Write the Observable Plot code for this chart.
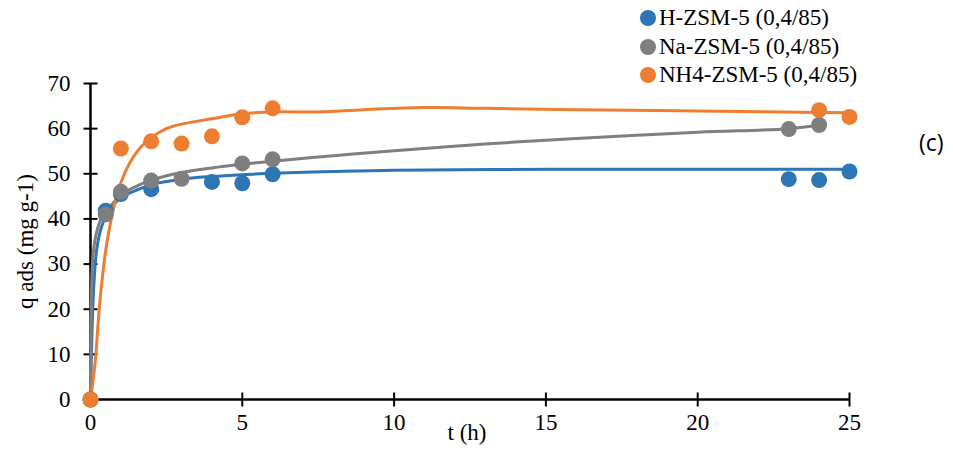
<!DOCTYPE html>
<html>
<head>
<meta charset="utf-8">
<script src="https://cdn.jsdelivr.net/npm/d3@7"></script>
<script src="https://cdn.jsdelivr.net/npm/@observablehq/plot@0.6"></script>
<style>
  html, body { margin: 0; padding: 0; background: #fff; }
  #wrap { position: relative; width: 953px; height: 453px; overflow: hidden; }
  #legend { position: absolute; left: 640px; top: 4px; font-family: "Liberation Serif", "Tinos", "Times New Roman", "DejaVu Serif", serif; font-size: 23px; color: #000; }
  #legend .row { display: flex; align-items: center; height: 28.5px; white-space: nowrap; }
  #legend .sw { width: 16px; height: 16px; border-radius: 50%; margin-right: 3px; flex: none; }
  #tag { position: absolute; left: 919px; top: 126px; font-family: "Open Sans", "Liberation Sans", sans-serif; font-size: 23px; color: #000; }
  #wrap svg text { font-family: "Liberation Serif", "Tinos", "Times New Roman", "DejaVu Serif", serif; }
</style>
</head>
<body>
<div id="wrap"><div id="legend"></div><div id="tag">(c)</div></div>
<script>
// ---- data ----
const seriesNames = ["H-ZSM-5 (0,4/85)", "Na-ZSM-5 (0,4/85)", "NH4-ZSM-5 (0,4/85)"];
const seriesColors = ["#2E75B6", "#7F7F7F", "#ED7D31"];

// measured points
const hT = [0, 0.5, 1, 2, 4, 5, 6, 23, 24, 25];
const hQ = [0, 41.8, 45.5, 46.6, 48.2, 47.9, 49.9, 48.8, 48.6, 50.5];
const naT = [0, 0.5, 1, 2, 3, 5, 6, 23, 24];
const naQ = [0, 41.0, 46.0, 48.5, 48.9, 52.3, 53.2, 59.9, 60.8];
const nhT = [0, 1, 2, 3, 4, 5, 6, 24, 25];
const nhQ = [0, 55.6, 57.2, 56.7, 58.3, 62.5, 64.5, 64.1, 62.6];

// fitted curves
const hFitT = [0, 0.05, 0.1, 0.2, 0.35, 0.5, 0.75, 1, 1.5, 2, 3, 4, 5, 6, 8, 10, 15, 20, 25];
const hFitQ = [0, 15, 24, 33, 38, 40.5, 43, 44.8, 46.3, 47.6, 48.8, 49.4, 49.8, 50.1, 50.5, 50.8, 51, 51, 51];
const naFitT = [0, 0.02, 0.05, 0.1, 0.2, 0.35, 0.6, 1, 1.5, 2, 3, 4, 5, 6, 8, 10, 13, 16, 20, 23, 24];
const naFitQ = [0, 18, 28, 33, 37, 40, 42.3, 45.3, 47.2, 48.6, 50.3, 51.3, 52.1, 52.8, 54, 55.1, 56.6, 57.8, 59.2, 60, 60.8];
const nhFitT = [0, 0.15, 0.3, 0.5, 0.75, 1, 1.3, 1.6, 2, 2.5, 3, 4, 5, 6, 7.5, 9, 11, 13, 16, 20, 24, 25];
const nhFitQ = [0, 8, 21, 33, 42, 48, 52.5, 55.5, 58, 60, 61, 62.2, 63.3, 63.7, 63.7, 64.2, 64.7, 64.5, 64.2, 63.9, 63.6, 63.5];

const xTicks = [0, 5, 10, 15, 20, 25];
const yTicks = [0, 10, 20, 30, 40, 50, 60, 70];
const xLabel = "t (h)";
const yLabel = "q ads (mg g-1)";

// ---- build tables ----
const pts = [], fits = [];
[[hT, hQ], [naT, naQ], [nhT, nhQ]].forEach(([T, Q], i) =>
  T.forEach((t, j) => pts.push({s: seriesNames[i], t, q: Q[j]})));
[[hFitT, hFitQ], [naFitT, naFitQ], [nhFitT, nhFitQ]].forEach(([T, Q], i) =>
  T.forEach((t, j) => fits.push({s: seriesNames[i], t, q: Q[j]})));

const vTick = {draw(ctx) { ctx.moveTo(0, -7); ctx.lineTo(0, 7); }};
const hTick = {draw(ctx) { ctx.moveTo(-7, 0); ctx.lineTo(7, 0); }};
const font = "'Liberation Serif', 'Tinos', 'Times New Roman', 'DejaVu Serif', serif";

const chart = Plot.plot({
  width: 953, height: 453,
  marginLeft: 90, marginRight: 104, marginTop: 83, marginBottom: 54,
  style: {fontFamily: font, fontSize: "23px", color: "#000", background: "transparent", overflow: "visible"},
  x: {domain: [0, 25], ticks: xTicks},
  y: {domain: [0, 70], ticks: yTicks},
  color: {domain: seriesNames, range: seriesColors},
  marks: [
    Plot.axisX(xTicks, {tickSize: 0, tickPadding: 14, fontSize: 23, label: null}),
    Plot.axisY(yTicks, {tickSize: 0, tickPadding: 20, fontSize: 23, label: yLabel, labelAnchor: "center", labelOffset: 74, labelArrow: "none"}),
    Plot.text([xLabel], {frameAnchor: "bottom", dy: 40, dx: -3, fontSize: 23, text: d => d}),
    Plot.ruleY([0], {stroke: "#000", strokeWidth: 2.5}),
    Plot.ruleX([0], {stroke: "#000", strokeWidth: 2.5}),
    Plot.dot(xTicks, {x: d => d, y: 0, symbol: vTick, stroke: "#000", strokeWidth: 2, fill: "none", r: 7}),
    Plot.dot(yTicks, {x: 0, y: d => d, symbol: hTick, stroke: "#000", strokeWidth: 2, fill: "none", r: 7}),
    Plot.line(fits, {x: "t", y: "q", z: "s", stroke: "s", strokeWidth: 3, curve: "catmull-rom"}),
    Plot.dot(pts, {x: "t", y: "q", fill: "s", r: 8, stroke: "none"})
  ]
});
document.getElementById("wrap").prepend(chart);

const leg = document.getElementById("legend");
seriesNames.forEach((n, i) => {
  const row = document.createElement("div");
  row.className = "row";
  row.innerHTML = `<span class="sw" style="background:${seriesColors[i]}"></span><span>${n}</span>`;
  leg.appendChild(row);
});
</script>
</body>
</html>
